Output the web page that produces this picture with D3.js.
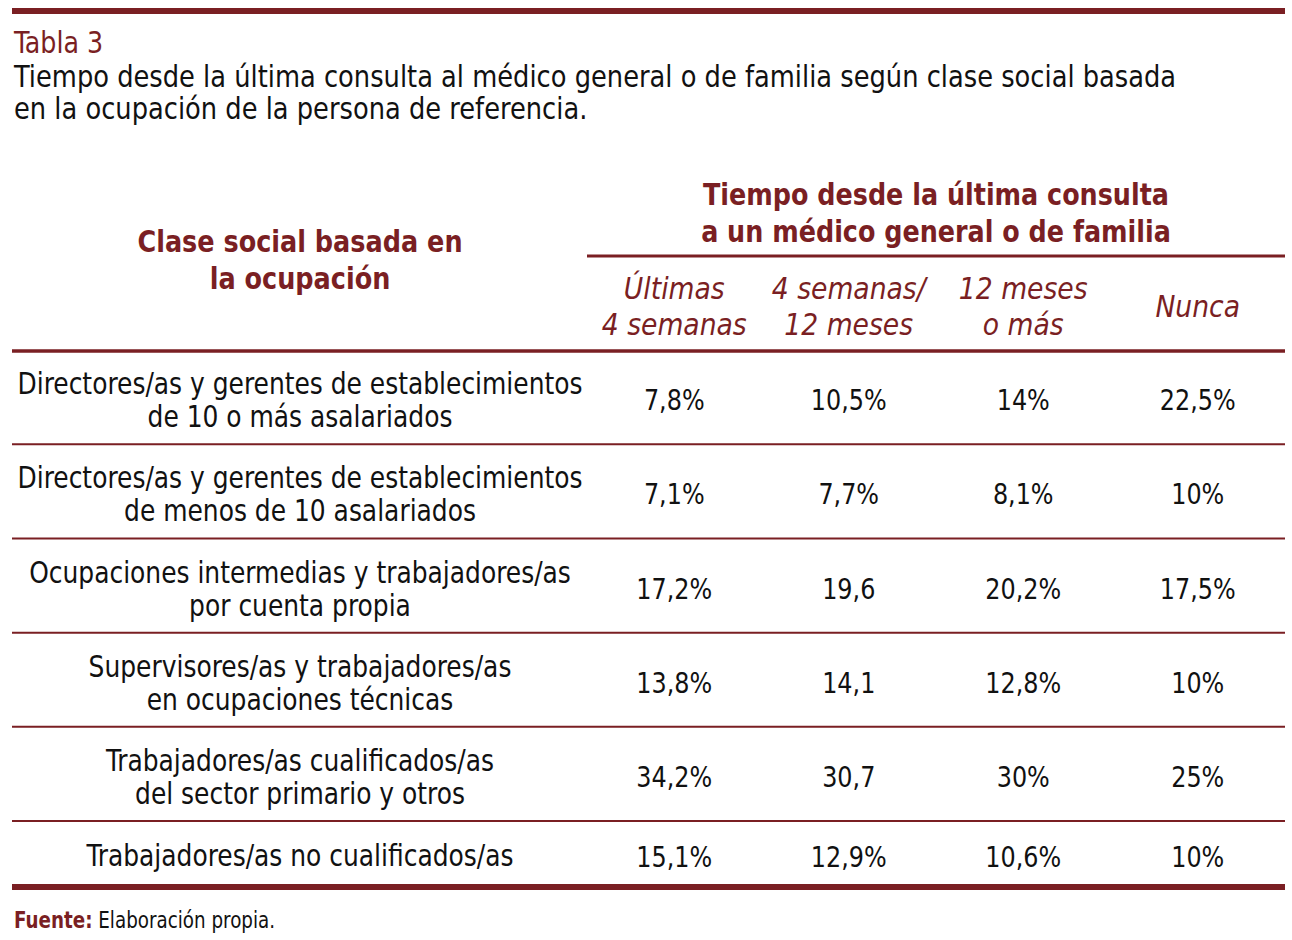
<!DOCTYPE html>
<html><head><meta charset="utf-8">
<script src="https://cdn.jsdelivr.net/npm/d3@7"></script>
<style>body{margin:0;background:#fff}</style>
</head><body>
<script>
const tableNumber = "Tabla 3";
const titleLines = ["Tiempo desde la última consulta al médico general o de familia según clase social basada", "en la ocupación de la persona de referencia."];
const rowHeaderLines = ["Clase social basada en", "la ocupación"];
const groupHeaderLines = ["Tiempo desde la última consulta", "a un médico general o de familia"];
const columns = [["Últimas","4 semanas"],["4 semanas/","12 meses"],["12 meses","o más"],["Nunca"]];
const categories = [
 ["Directores/as y gerentes de establecimientos","de 10 o más asalariados"],
 ["Directores/as y gerentes de establecimientos","de menos de 10 asalariados"],
 ["Ocupaciones intermedias y trabajadores/as","por cuenta propia"],
 ["Supervisores/as y trabajadores/as","en ocupaciones técnicas"],
 ["Trabajadores/as cualificados/as","del sector primario y otros"],
 ["Trabajadores/as no cualificados/as"]
];
const ultimas4Semanas = ["7,8%","7,1%","17,2%","13,8%","34,2%","15,1%"];
const semanas4a12Meses = ["10,5%","7,7%","19,6","14,1","30,7","12,9%"];
const meses12oMas = ["14%","8,1%","20,2%","12,8%","30%","10,6%"];
const nunca = ["22,5%","10%","17,5%","10%","25%","10%"];
const sourceLabel = "Fuente:";
const sourceText = " Elaboración propia.";

const series = [ultimas4Semanas, semanas4a12Meses, meses12oMas, nunca];
const RED = "#7a1f23";
const FONT = "'DejaVu Sans Condensed',sans-serif";

const W = 1292, H = 940;
const svg = d3.select("body").append("svg").attr("width", W).attr("height", H)
  .style("font-family", FONT);

const left = 12, right = 1285, colStart = 587, labelCenter = 300;
const headTop = 350, tableBottom = 887;

// row scale: 2-line rows get 1 unit, 1-line rows 0.7
const units = categories.map(c => c.length === 2 ? 1 : 0.7);
const cum = [0]; units.forEach((u, i) => cum.push(cum[i] + u));
const y = d3.scaleLinear().domain([0, cum[cum.length - 1]]).range([headTop, tableBottom]);
const x = d3.scaleBand().domain(d3.range(columns.length)).range([colStart, right]);

function line(x1, x2, yy, w) {
  svg.append("line").attr("x1", x1).attr("x2", x2).attr("y1", yy).attr("y2", yy)
    .attr("stroke", RED).attr("stroke-width", w);
}
function txt(s, xx, yy, opt) {
  const t = svg.append("text").attr("x", xx).attr("y", yy).text(s)
    .attr("font-size", opt.size).attr("fill", opt.fill || "#111")
    .attr("text-anchor", opt.anchor || "start");
  if (opt.weight) t.attr("font-weight", opt.weight);
  if (opt.style) t.attr("font-style", opt.style);
  if (opt.sx && opt.sx !== 1) t.attr("transform", `translate(${xx},0) scale(${opt.sx},1) translate(${-xx},0)`);
  return t;
}

// top rule
line(left, right, 11, 6);
txt(tableNumber, 14, 53, {size: 31, fill: RED, sx: 0.91});
titleLines.forEach((s, i) => txt(s, 14, 87 + i * 32, {size: 31, sx: 0.923}));

// headers
rowHeaderLines.forEach((s, i) => txt(s, labelCenter, 252 + i * 37, {size: 31, weight: "bold", fill: RED, anchor: "middle", sx: 0.915}));
const groupCenter = (colStart + right) / 2;
groupHeaderLines.forEach((s, i) => txt(s, groupCenter, 205 + i * 37, {size: 31, weight: "bold", fill: RED, anchor: "middle", sx: 0.912}));
line(colStart, right, 256, 3);

columns.forEach((c, j) => {
  const cx = x(j) + x.bandwidth() / 2;
  const base = c.length === 2 ? 299 : 317;
  c.forEach((s, i) => txt(s, cx, base + i * 36, {size: 31, style: "italic", fill: RED, anchor: "middle", sx: 0.955}));
});
line(left, right, 351, 3.5);

// rows
categories.forEach((c, r) => {
  const cy = (y(cum[r]) + y(cum[r + 1])) / 2;
  if (c.length === 2) {
    c.forEach((s, i) => txt(s, labelCenter, cy - 3 + i * 33, {size: 30, anchor: "middle", sx: 0.925}));
  } else {
    txt(c[0], labelCenter, cy + 12, {size: 30, anchor: "middle", sx: 0.925});
  }
  series.forEach((vals, j) => {
    const cx = x(j) + x.bandwidth() / 2;
    txt(vals[r], cx, cy + 13, {size: 29, anchor: "middle", sx: 0.916});
  });
  if (r < categories.length - 1) line(left, right, y(cum[r + 1]), 2);
});
line(left, right, tableBottom, 6);

// source
const src = svg.append("text").attr("x", 14).attr("y", 928).attr("font-size", 23).attr("fill", "#111")
  .attr("transform", "translate(14,0) scale(0.885,1) translate(-14,0)");
src.append("tspan").text(sourceLabel).attr("font-weight", "bold").attr("fill", RED);
src.append("tspan").text(sourceText);
</script>
</body></html>
